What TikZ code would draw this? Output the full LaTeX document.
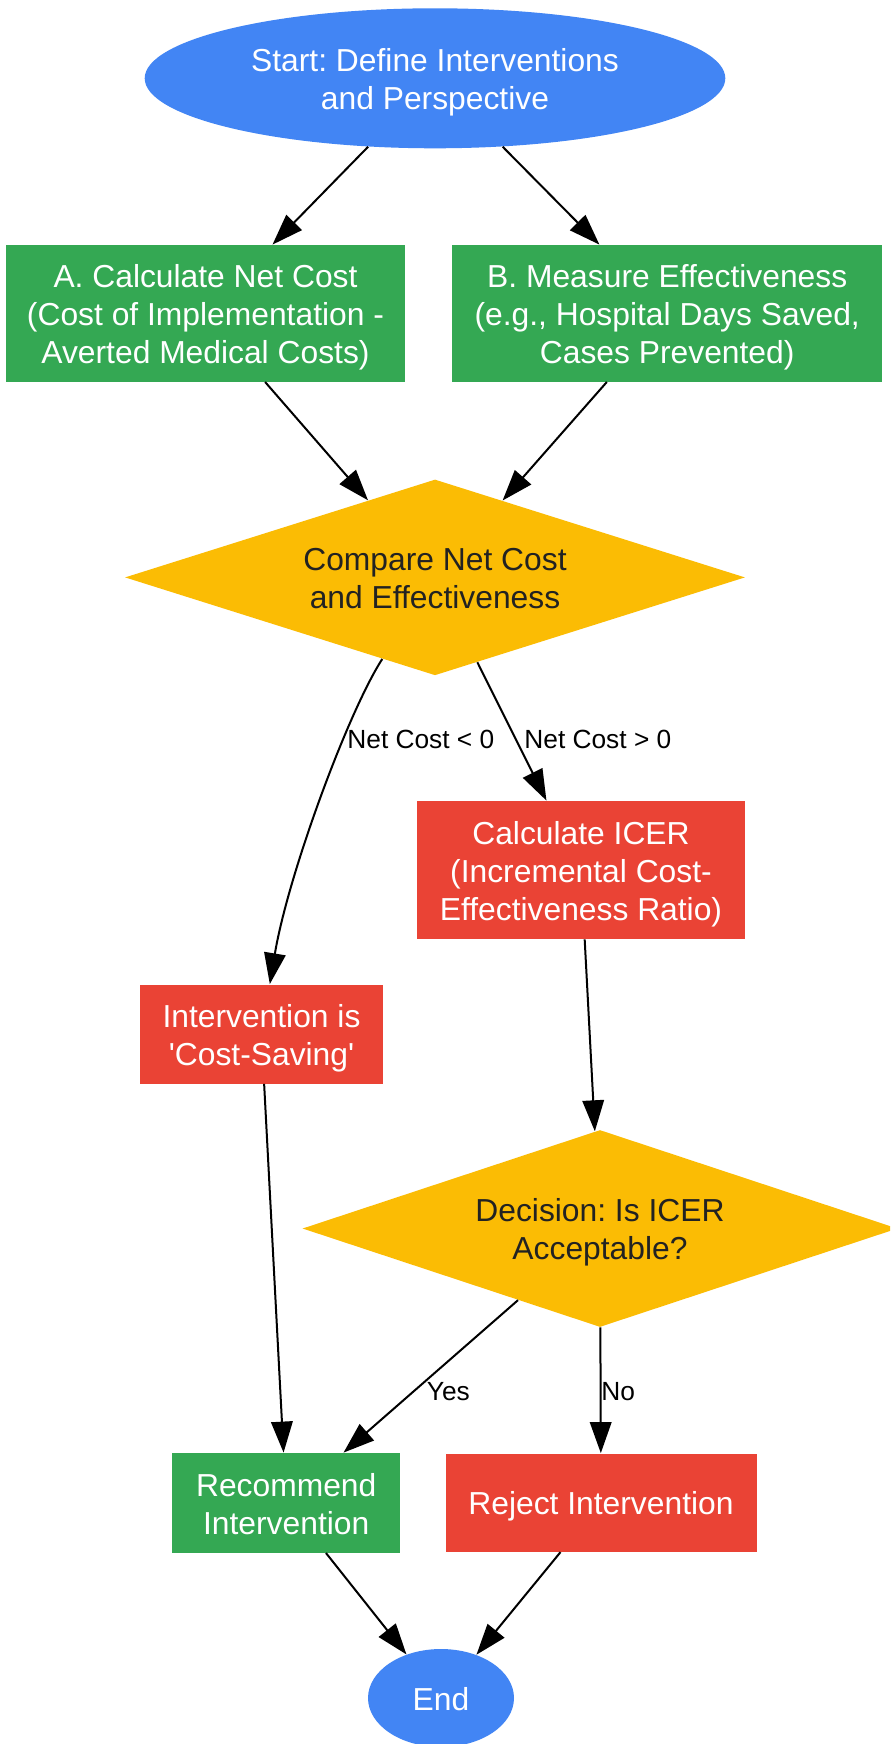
\documentclass[tikz,border=0pt]{standalone}
\usepackage{fontspec}
\setmainfont{Liberation Sans}
\usetikzlibrary{shapes.geometric,arrows.meta}
\definecolor{gblue}{HTML}{4285F4}
\definecolor{ggreen}{HTML}{34A853}
\definecolor{gred}{HTML}{EA4335}
\definecolor{gyellow}{HTML}{FBBC04}
\definecolor{gdark}{HTML}{222222}
\newcommand{\stA}{\rule{0pt}{16.8pt}}
\newcommand{\stB}{\rule[-4.5pt]{0pt}{4.5pt}}
\frenchspacing
\begin{document}
\begin{tikzpicture}[x=0.5pt,y=-0.5pt,
  base/.style={inner sep=0pt, align=center, font=\fontsize{15.9}{18.9}\selectfont},
  boxg/.style={base, rectangle, fill=ggreen, text=white},
  boxr/.style={base, rectangle, fill=gred, text=white},
  oval/.style={base, ellipse, fill=gblue, text=white},
  decide/.style={base, diamond, aspect=3.16, fill=gyellow, text=gdark},
  arr/.style={-{Triangle[length=15.5pt,width=10.75pt]}, line width=1pt},
  lbl/.style={font=\fontsize{13.15}{15}\selectfont, anchor=west, inner sep=0pt, text=black}]
\clip (0,0) rectangle (890,1744);
\fill[white] (0,0) rectangle (890,1744);

\node[oval, minimum width=290.3pt, minimum height=70pt] (start) at (435,78.3) {\stA Start: Define Interventions\\and Perspective\stB};
\node[boxg, minimum width=199.7pt, minimum height=68.3pt] (A) at (205.5,313.3) {\stA A. Calculate Net Cost\\(Cost of Implementation -\\Averted Medical Costs)\stB};
\node[boxg, minimum width=215.2pt, minimum height=68.3pt] (B) at (667.2,313.3) {\stA B. Measure Effectiveness\\(e.g., Hospital Days Saved,\\Cases Prevented)\stB};
\node[decide, minimum width=310pt, minimum height=97.9pt] (cmp) at (435,577.4) {\stA Compare Net Cost\\and Effectiveness\stB};
\node[boxr, minimum width=164pt, minimum height=69pt] (icer) at (581,870) {\stA Calculate ICER\\(Incremental Cost-\\Effectiveness Ratio)\stB};
\node[boxr, minimum width=121.5pt, minimum height=49.5pt] (save) at (261.5,1034) {\stA Intervention is\\\textquotesingle Cost-Saving\textquotesingle\stB};
\node[decide, minimum width=297.5pt, minimum height=98.5pt] (dec) at (600,1228.5) {\stA Decision: Is ICER\\Acceptable?\stB};
\node[boxg, minimum width=113.8pt, minimum height=49.8pt] (rec) at (286.2,1502.8) {\stA Recommend\\Intervention\stB};
\node[boxr, minimum width=155.5pt, minimum height=49.1pt] (rej) at (601,1502.6) {\stA Reject Intervention\stB};
\node[oval, minimum width=73pt, minimum height=49pt] (end) at (441,1698) {\stA End\stB};

\draw[arr] (start) -- (A);
\draw[arr] (start) -- (B);
\draw[arr] (A) -- (cmp);
\draw[arr] (B) -- (cmp);
\draw[arr] (cmp) .. controls (348,712) and (288,875) .. (save);
\draw[arr] (cmp) -- (icer);
\draw[arr] (icer) -- (dec);
\draw[arr] (save) -- (rec);
\draw[arr] (dec) -- (rec);
\draw[arr] (dec) -- (rej);
\draw[arr] (rec) -- (end);
\draw[arr] (rej) -- (end);

\node[lbl] (lneg) at (347,739.5) {Net Cost < 0};
\node[lbl] (lpos) at (524,739.5) {Net Cost > 0};
\node[lbl] (lyes) at (426.5,1391.5) {Yes};
\node[lbl] (lno) at (601,1391.5) {No};
\end{tikzpicture}
\end{document}
